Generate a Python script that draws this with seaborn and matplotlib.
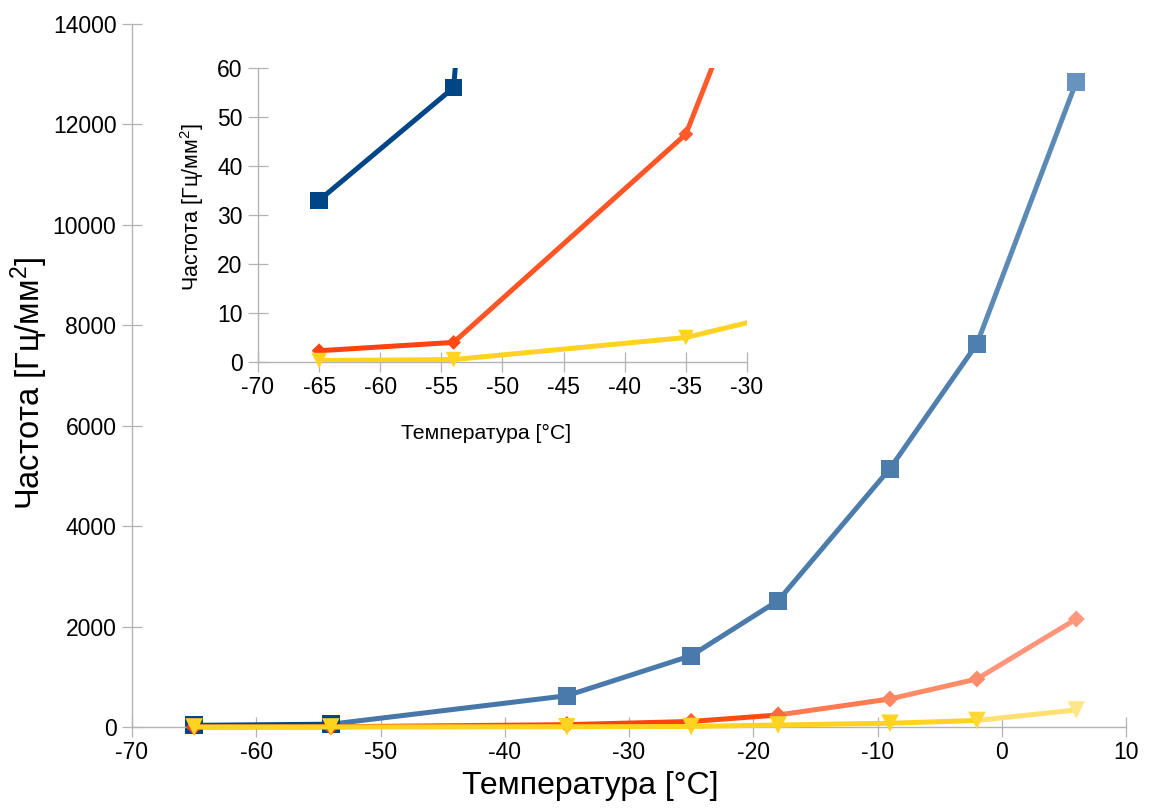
import matplotlib
matplotlib.use("Agg")
import matplotlib.pyplot as plt
import seaborn as sns
import numpy as np
import pandas as pd

# ---- data ----
temps = [-65, -54, -35, -25, -18, -9, -2, 6]
blue_vals = [33, 56, 623, 1420, 2516, 5145, 7629, 12849]
orange_vals = [2.3, 4.0, 46.5, 110, 239, 558, 956, 2151]
yellow_vals = [0.3, 0.5, 5.0, 11.0, 40, 75, 130, 340]

main_xticks = [-70, -60, -50, -40, -30, -20, -10, 0, 10]
main_yticks = [0, 2000, 4000, 6000, 8000, 10000, 12000, 14000]
inset_xticks = [-70, -65, -60, -55, -50, -45, -40, -35, -30]
inset_yticks = [0, 10, 20, 30, 40, 50, 60]

xlabel = "Температура [°C]"
ylabel = r"Частота [Гц/мм$^{2}$]"

# ---- styles ----
blue_seg = ["#004586", "#4677a8", "#4a7aab", "#4b7bab", "#4c7cac", "#4f7fae", "#5c8ab6"]
blue_mk = ["#004586", "#004586", "#4a7aab", "#4a7aab", "#4b7bab", "#4c7cac", "#4f7fae", "#6893bc"]
orange_seg = ["#ff420e", "#ff420e", "#ff420e", "#ff4a16", "#ff7a50", "#ff8a66", "#ff957a"]
orange_mk = ["#ff420e", "#ff420e", "#ff420e", "#ff5a2a", "#ff6a3c", "#ff8660", "#ff8c6a", "#ff987c"]
yellow_seg = ["#ffd320", "#ffd320", "#ffd320", "#ffd320", "#ffd320", "#ffd320", "#ffe070"]
yellow_mk = ["#ffd320", "#ffd320", "#ffd320", "#ffd320", "#ffd320", "#ffd320", "#ffd838", "#ffe68a"]

inset_blue_seg = ["#004586"] * 7
inset_blue_mk = ["#004586"] * 8
inset_orange_seg = ["#ff420e", "#ff5424", "#ff5a2a", "#ff5a2a", "#ff5a2a", "#ff5a2a", "#ff5a2a"]
inset_orange_mk = ["#ff420e", "#ff4a16", "#ff5a2a", "#ff5a2a", "#ff5a2a", "#ff5a2a", "#ff5a2a", "#ff5a2a"]
inset_yellow_seg = ["#ffd320"] * 7
inset_yellow_mk = ["#ffd320"] * 8

sns.set_theme(style="white")
plt.rcParams["font.family"] = ["Liberation Sans", "DejaVu Sans"]
plt.rcParams["mathtext.fontset"] = "custom"
plt.rcParams["mathtext.rm"] = "Liberation Sans"
plt.rcParams["mathtext.it"] = "Liberation Sans"
plt.rcParams["mathtext.bf"] = "Liberation Sans"
plt.rcParams["mathtext.default"] = "regular"

GRAY = "#b3b3b3"
LW = 3.6

fig = plt.figure(figsize=(11.5, 8.11), dpi=100)
ax = fig.add_axes([132 / 1150, 1 - 727 / 811, 994 / 1150, 703 / 811])
axi = fig.add_axes([258 / 1150, 1 - 362 / 811, 489 / 1150, 294 / 811])


def style_axes(a, xt, yt, fs):
    for s in ["top", "right"]:
        a.spines[s].set_visible(False)
    for s in ["left", "bottom"]:
        a.spines[s].set_color(GRAY)
        a.spines[s].set_linewidth(1.0)
    a.set_xticks(xt)
    a.set_yticks(yt)
    a.set_xticklabels([str(v) for v in xt])
    a.set_yticklabels([str(v) for v in yt])
    a.tick_params(axis="both", which="major", bottom=True, left=True,
                  top=False, right=False, direction="inout", length=14.4,
                  width=0.9, color=GRAY, labelsize=fs, labelcolor="black")
    a.tick_params(axis="x", pad=3)
    a.tick_params(axis="y", pad=4)
    a.grid(False)
    a.set_facecolor("white")


def draw_series(a, xs, ys, seg_cols, mk_cols, marker, size, z, clip, mask=None):
    for i in range(len(xs) - 1):
        sns.lineplot(x=xs[i:i + 2], y=ys[i:i + 2], color=seg_cols[i], lw=LW,
                     ax=a, zorder=z, clip_on=clip, legend=False,
                     solid_capstyle="butt")
    df = pd.DataFrame({"x": xs, "y": ys, "k": [str(i) for i in range(len(xs))]})
    pal = {str(i): c for i, c in enumerate(mk_cols)}
    if mask is not None:
        df = df[mask]
    sns.scatterplot(data=df, x="x", y="y", hue="k", palette=pal, marker=marker,
                    s=size, linewidth=0, ax=a, zorder=z + 0.1, clip_on=False,
                    legend=False)


# main chart
draw_series(ax, temps, blue_vals, blue_seg, blue_mk, "s", 165, 2, False)
draw_series(ax, temps, orange_vals, orange_seg, orange_mk, "D", 75, 3, False)
draw_series(ax, temps, yellow_vals, yellow_seg, yellow_mk, "v", 160, 4, False)
ax.set_xlim(-70, 10)
ax.set_ylim(0, 14000)
style_axes(ax, main_xticks, main_yticks, 16.5)
ax.set_xlabel(xlabel, fontsize=23, color="black")
ax.set_ylabel(ylabel, fontsize=23.5, color="black")
ax.xaxis.set_label_coords(0.461, -0.062)
ax.yaxis.set_label_coords(-0.082, 0.489)

# inset chart
tx = np.array(temps)
for vals, seg, mk, m, s, z in [
    (blue_vals, inset_blue_seg, inset_blue_mk, "s", 155, 2),
    (orange_vals, inset_orange_seg, inset_orange_mk, "D", 57, 3),
    (yellow_vals, inset_yellow_seg, inset_yellow_mk, "v", 125, 4),
]:
    va = np.array(vals)
    mask = ((tx >= -70) & (tx <= -30) & (va <= 60)).tolist()
    draw_series(axi, temps, vals, seg, mk, m, s, z, True, mask=mask)
axi.set_xlim(-70, -30)
axi.set_ylim(0, 60)
style_axes(axi, inset_xticks, inset_yticks, 16.5)
axi.set_xlabel(xlabel, fontsize=15.3, color="black")
axi.set_ylabel(ylabel, fontsize=15.5, color="black")
axi.xaxis.set_label_coords(0.466, -0.21)
axi.yaxis.set_label_coords(-0.106, 0.527)

fig.savefig("out.png", dpi=100, facecolor="white")
